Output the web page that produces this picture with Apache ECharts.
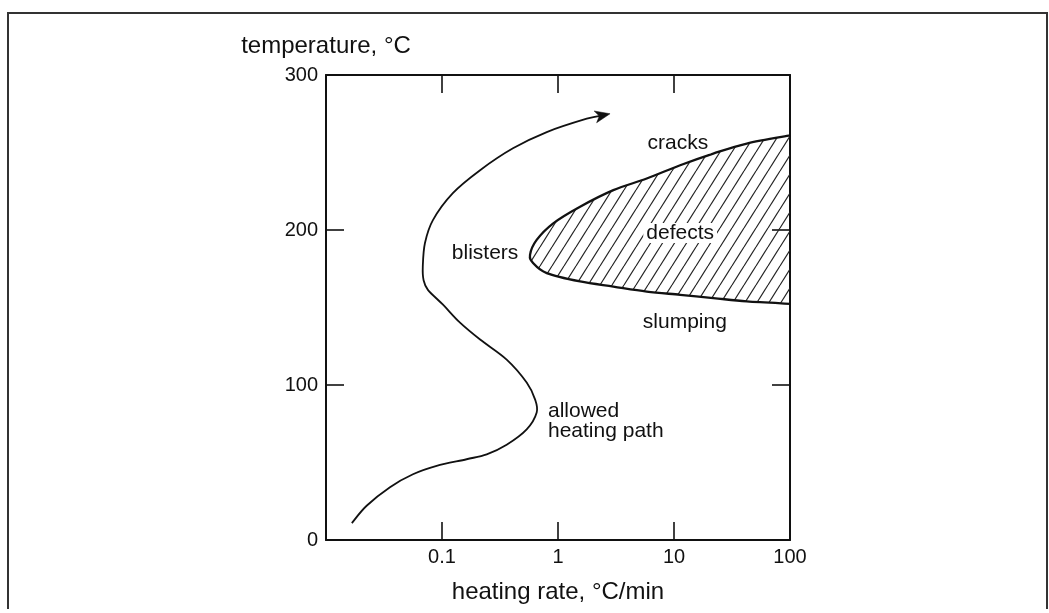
<!DOCTYPE html>
<html>
<head>
<meta charset="utf-8">
<script src="https://cdn.jsdelivr.net/npm/echarts@6/dist/echarts.min.js"></script>
<style>
html,body{margin:0;padding:0;background:#fff;}
#chart{width:1049px;height:613px;}
</style>
</head>
<body>
<div id="chart"></div>
<script>
// ---- data ----
var xTickValues = [0.1, 1, 10, 100];
var xTickLabels = ['0.1', '1', '10', '100'];
var yTickLabels = ['0', '100', '200', '300'];

// allowed heating path (heating rate °C/min, temperature °C)
var pathRate = [0.0167, 0.0224, 0.0356, 0.0562, 0.0899, 0.163, 0.243, 0.361, 0.537, 0.655, 0.634, 0.537, 0.361, 0.213, 0.143, 0.102, 0.0756, 0.0693, 0.0683, 0.0713, 0.0835, 0.124, 0.213, 0.409, 0.800, 1.77, 2.81];
var pathTemp = [10.9, 22.1, 34.1, 42.4, 47.8, 52.1, 55.3, 61.5, 71.4, 82.3, 90.7, 101.6, 116.4, 129.3, 140.2, 151.8, 161.4, 167.8, 176.4, 191.6, 206.4, 223.8, 238.6, 252.7, 263.2, 271.8, 275];

// defect region boundary (upper "cracks" edge -> nose -> lower "slumping" edge)
var defectRate = [100, 42.4, 21.8, 11.3, 5.82, 3.00, 1.55, 0.910, 0.655, 0.574, 0.612, 0.800, 1.55, 3.00, 5.82, 11.3, 21.8, 42.4, 100];
var defectTemp = [261, 255.8, 249.3, 241.8, 233.2, 225.7, 215, 204.3, 193.6, 184, 178.6, 172.2, 166.8, 163.5, 160.3, 158.2, 156.1, 153.9, 152.4];

// annotations
var labelRate = [10.8, 11.3, 0.235, 12.4, 0.82];
var labelTemp = [256, 198, 185.2, 140.8, 76.5];
var labelText = ['cracks', 'defects', 'blisters', 'slumping', 'allowed\nheating path'];

// ---- build ----
var FONT = "'Liberation Sans', Arial, Helvetica, sans-serif";
var INK = '#111';

function zip(a, b) { return a.map(function (v, i) { return [v, b[i]]; }); }

// Catmull-Rom spline through pixel points -> SVG path data
function splinePath(pts) {
  var n = pts.length;
  var d = 'M' + pts[0][0].toFixed(2) + ' ' + pts[0][1].toFixed(2);
  for (var i = 0; i < n - 1; i++) {
    var p0 = pts[Math.max(i - 1, 0)], p1 = pts[i], p2 = pts[i + 1], p3 = pts[Math.min(i + 2, n - 1)];
    var c1x = p1[0] + (p2[0] - p0[0]) / 6, c1y = p1[1] + (p2[1] - p0[1]) / 6;
    var c2x = p2[0] - (p3[0] - p1[0]) / 6, c2y = p2[1] - (p3[1] - p1[1]) / 6;
    d += ' C' + c1x.toFixed(2) + ' ' + c1y.toFixed(2) + ' ' + c2x.toFixed(2) + ' ' + c2y.toFixed(2) + ' ' + p2[0].toFixed(2) + ' ' + p2[1].toFixed(2);
  }
  return d;
}

// hatch pattern
var tile = document.createElement('canvas');
var TW = 12, TH = 19;
tile.width = TW; tile.height = TH;
var c = tile.getContext('2d');
c.strokeStyle = '#222';
c.lineWidth = 1.2;
[-TW, 0, TW].forEach(function (x0) {
  c.beginPath();
  c.moveTo(x0, TH);
  c.lineTo(x0 + TW, 0);
  c.stroke();
});
var hatch = { image: tile, repeat: 'repeat' };

function xLabel(v) {
  for (var i = 0; i < xTickValues.length; i++) {
    if (Math.abs(Math.log10(v) - Math.log10(xTickValues[i])) < 0.01) return xTickLabels[i];
  }
  return '';
}
function yLabel(v) {
  var i = Math.round(v / 100);
  return yTickLabels[i] !== undefined ? yTickLabels[i] : '';
}

function tickStyle() { return { show: true, inside: true, length: 18, lineStyle: { color: INK, width: 1.6 } }; }
function axisLineStyle() { return { show: true, onZero: false, lineStyle: { color: INK, width: 2 } }; }

var chart = echarts.init(document.getElementById('chart'), null, { renderer: 'canvas' });

var option = {
  animation: false,
  backgroundColor: '#fff',
  textStyle: { fontFamily: FONT },
  grid: { left: 326, right: 259, top: 75, bottom: 73, containLabel: false },
  xAxis: [{
    type: 'log', logBase: 10, min: 0.01, max: 100, position: 'bottom',
    name: 'heating rate, °C/min', nameLocation: 'middle', nameGap: 40,
    nameTextStyle: { fontSize: 24, color: INK, fontFamily: FONT },
    axisLine: axisLineStyle(), axisTick: tickStyle(), minorTick: { show: false },
    splitLine: { show: false },
    axisLabel: { show: true, showMinLabel: false, margin: 7, fontSize: 20, color: INK, fontFamily: FONT, formatter: xLabel }
  }, {
    type: 'log', logBase: 10, min: 0.01, max: 100, position: 'top',
    axisLine: axisLineStyle(), axisTick: tickStyle(), minorTick: { show: false },
    splitLine: { show: false }, axisLabel: { show: false }
  }],
  yAxis: [{
    type: 'value', min: 0, max: 300, interval: 100, position: 'left',
    name: 'temperature, °C', nameLocation: 'end', nameGap: 17,
    nameTextStyle: { fontSize: 24, color: INK, fontFamily: FONT, align: 'center', verticalAlign: 'bottom' },
    axisLine: axisLineStyle(), axisTick: tickStyle(), splitLine: { show: false },
    axisLabel: { margin: 8, fontSize: 20, color: INK, fontFamily: FONT, formatter: yLabel }
  }, {
    type: 'value', min: 0, max: 300, interval: 100, position: 'right',
    axisLine: axisLineStyle(), axisTick: tickStyle(), splitLine: { show: false },
    axisLabel: { show: false }
  }],
  graphic: [{
    type: 'polyline', silent: true,
    shape: { points: [[8, 609], [8, 13], [1047, 13], [1047, 609]] },
    style: { stroke: '#333', lineWidth: 2, fill: null }
  }],
  series: [{
    type: 'custom', name: 'defects', silent: true, z: 1,
    xAxisIndex: 0, yAxisIndex: 0,
    data: [[1, 200]],
    renderItem: function (params, api) {
      var pts = defectRate.map(function (r, i) { return api.coord([r, defectTemp[i]]); });
      var d = splinePath(pts);
      return {
        type: 'group',
        children: [
          { type: 'path', shape: { pathData: d + ' Z' }, style: { fill: hatch, stroke: null } },
          { type: 'path', z2: 5, shape: { pathData: d }, style: { fill: null, stroke: INK, lineWidth: 2.3, lineJoin: 'round' } }
        ]
      };
    }
  }, {
    type: 'custom', name: 'labels', silent: true, z: 2,
    xAxisIndex: 0, yAxisIndex: 0,
    data: zip(labelRate, labelTemp),
    renderItem: function (params, api) {
      var i = params.dataIndex;
      var p = api.coord([api.value(0), api.value(1)]);
      var multi = labelText[i].indexOf('\n') >= 0;
      return {
        type: 'text', x: p[0], y: p[1],
        style: {
          text: labelText[i], fill: INK, fontSize: 21, fontFamily: FONT,
          align: multi ? 'left' : 'center', verticalAlign: 'middle', lineHeight: 20,
          backgroundColor: '#fff', padding: multi ? 0 : [0, 3]
        }
      };
    }
  }, {
    type: 'custom', name: 'allowed heating path', silent: true, z: 3,
    xAxisIndex: 0, yAxisIndex: 0,
    data: [[1, 100]],
    renderItem: function (params, api) {
      var pts = pathRate.map(function (r, i) { return api.coord([r, pathTemp[i]]); });
      var n = pts.length;
      var tip = pts[n - 1], prev = pts[n - 2];
      var dx = tip[0] - prev[0], dy = tip[1] - prev[1];
      var len = Math.sqrt(dx * dx + dy * dy);
      var ux = dx / len, uy = dy / len, nx = -uy, ny = ux;
      var L = 15, W = 6, N = 11;
      var head = [
        tip,
        [tip[0] - ux * L + nx * W, tip[1] - uy * L + ny * W],
        [tip[0] - ux * N, tip[1] - uy * N],
        [tip[0] - ux * L - nx * W, tip[1] - uy * L - ny * W]
      ];
      var linePts = pts.slice(0, n - 1).concat([[tip[0] - ux * 8, tip[1] - uy * 8]]);
      return {
        type: 'group',
        children: [
          { type: 'path', shape: { pathData: splinePath(linePts) }, style: { fill: null, stroke: INK, lineWidth: 1.8 } },
          { type: 'polygon', shape: { points: head }, style: { fill: INK, stroke: INK, lineWidth: 0.5 } }
        ]
      };
    }
  }]
};
chart.setOption(option);
</script>
</body>
</html>
